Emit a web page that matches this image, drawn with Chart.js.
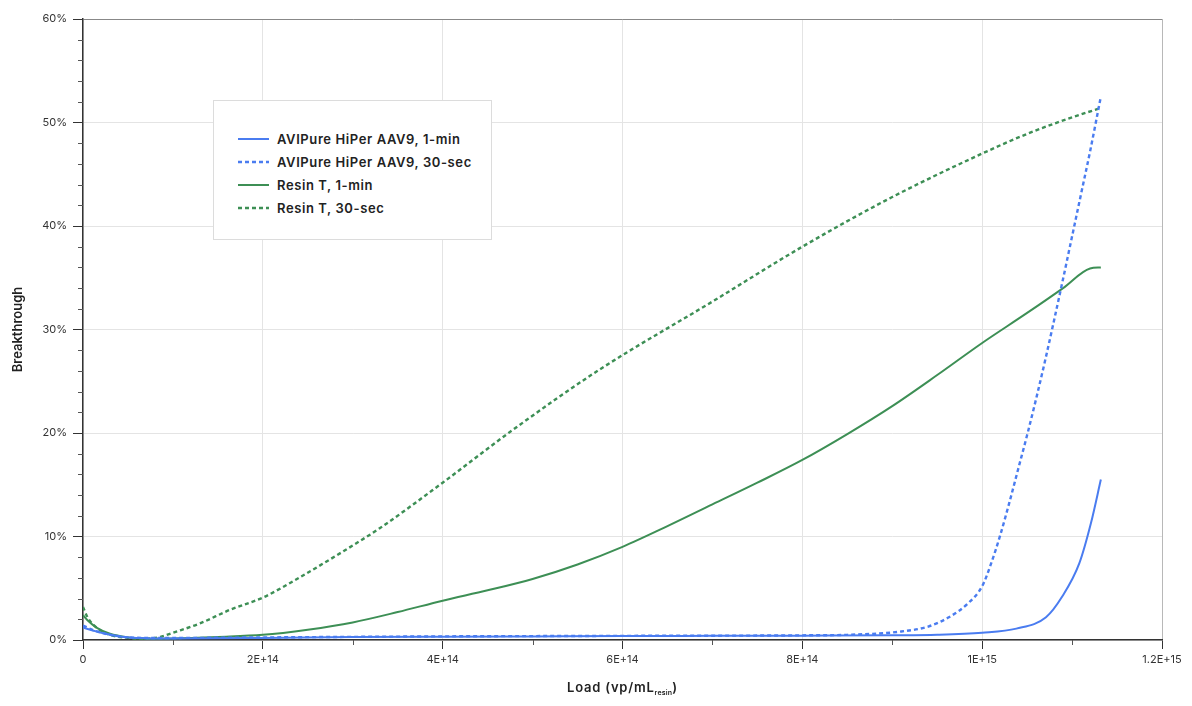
<!DOCTYPE html>
<html>
<head>
<meta charset="utf-8">
<script src="https://cdn.jsdelivr.net/npm/chart.js@4.4.1/dist/chart.umd.min.js"></script>
<style>
  html, body { margin: 0; padding: 0; background: #fff; }
  #wrap { position: relative; width: 1192px; height: 706px; font-family: Inter, "Open Sans", sans-serif; }
  #legend { position: absolute; left: 213px; top: 100px; width: 279px; height: 140px; box-sizing: border-box;
            border: 1px solid #dcdcdc; background: #fff; padding-top: 26px; }
  .item { display: flex; align-items: center; height: 23px; padding-left: 24px; font-size: 13px; font-weight: 600; letter-spacing: 0.6px; color: #222; }
  .item svg { margin-right: 8px; }
  #xtitle { position: absolute; top: 679px; left: 0; width: 1245px; text-align: center; font-size: 13px; font-weight: 600; letter-spacing: 0.8px; color: #222; }
  #xtitle sub { font-size: 7px; letter-spacing: 0.2px; vertical-align: -3px; }
</style>
</head>
<body>
<div id="wrap">
  <canvas id="c" width="1192" height="706"></canvas>
  <div id="legend"></div>
  <div id="xtitle">Load (vp/mL<sub>resin</sub>)</div>
</div>
<script>
// ---- Data (x in vp/mL resin, y in % breakthrough) ----
const seriesNames = ["AVIPure HiPer AAV9, 1-min", "AVIPure HiPer AAV9, 30-sec", "Resin T, 1-min", "Resin T, 30-sec"];

const aviOneMinX = [0, 0.1e14, 0.25e14, 0.45e14, 0.7e14, 1.0e14, 2e14, 3e14, 4e14, 5e14, 6e14, 7e14, 8e14, 9e14, 9.5e14, 10e14, 10.38e14, 10.71e14, 10.89e14, 11.08e14, 11.21e14, 11.32e14];
const aviOneMinY = [1.2, 0.95, 0.6, 0.3, 0.18, 0.15, 0.2, 0.28, 0.32, 0.35, 0.38, 0.4, 0.42, 0.45, 0.5, 0.7, 1.1, 2.2, 4.2, 7.4, 11.3, 15.5];

const aviHalfMinX = [0, 0.1e14, 0.25e14, 0.45e14, 0.7e14, 1.0e14, 2e14, 4e14, 6e14, 8e14, 8.5e14, 9.08e14, 9.4e14, 9.63e14, 9.85e14, 10.0e14, 10.1e14, 10.2e14, 10.3e14, 10.4e14, 10.5e14, 10.6e14, 10.7e14, 10.8e14, 10.9e14, 11.0e14, 11.1e14, 11.2e14, 11.32e14];
const aviHalfMinY = [1.4, 1.0, 0.6, 0.3, 0.2, 0.2, 0.25, 0.35, 0.4, 0.45, 0.5, 0.8, 1.3, 2.2, 3.6, 5.2, 7.4, 10.1, 13.2, 16.5, 19.8, 23.3, 27.0, 30.9, 34.9, 39.0, 43.1, 47.2, 52.5];

const resinOneMinX = [0, 0.05e14, 0.15e14, 0.3e14, 0.5e14, 0.7e14, 1.0e14, 1.5e14, 2e14, 2.5e14, 3e14, 3.5e14, 4e14, 4.5e14, 5e14, 5.5e14, 6e14, 6.5e14, 7e14, 7.5e14, 8e14, 8.5e14, 9e14, 9.5e14, 10e14, 10.5e14, 10.9e14, 11.2e14, 11.32e14];
const resinOneMinY = [2.4, 1.9, 1.2, 0.6, 0.25, 0.12, 0.15, 0.3, 0.5, 1.0, 1.7, 2.7, 3.8, 4.8, 5.9, 7.3, 9.0, 11.0, 13.1, 15.2, 17.4, 19.9, 22.6, 25.6, 28.7, 31.6, 34.0, 35.9, 36.0];

const resinHalfMinX = [0, 0.05e14, 0.15e14, 0.3e14, 0.5e14, 0.7e14, 0.86e14, 1.0e14, 1.3e14, 1.63e14, 2e14, 2.4e14, 2.9e14, 3.3e14, 4e14, 4.78e14, 5.74e14, 7e14, 8e14, 9e14, 10e14, 10.5e14, 11e14, 11.32e14];
const resinHalfMinY = [3.2, 2.2, 1.2, 0.5, 0.2, 0.12, 0.3, 0.7, 1.6, 2.9, 4.1, 6.0, 8.6, 10.8, 15.2, 20.3, 26.1, 32.7, 38.0, 42.8, 47.0, 48.9, 50.5, 51.4];

const xTickValues = [0, 2e14, 4e14, 6e14, 8e14, 10e14, 12e14];
const xTickLabels = ["0", "2E+14", "4E+14", "6E+14", "8E+14", "1E+15", "1.2E+15"];
const xMinorTicks = [1e14, 3e14, 5e14, 7e14, 9e14, 11e14];
const yTickValues = [0, 10, 20, 30, 40, 50, 60];
const yTickLabels = ["0%", "10%", "20%", "30%", "40%", "50%", "60%"];
const yMinorTicks = [2, 4, 6, 8, 12, 14, 16, 18, 22, 24, 26, 28, 32, 34, 36, 38, 42, 44, 46, 48, 52, 54, 56, 58];

const BLUE = "#4a7cf0";
const GREEN = "#3d8f55";
const colors = [BLUE, BLUE, GREEN, GREEN];
const dashes = [[], [4, 3], [], [4, 3]];
const widths = [2, 2.4, 2, 2.4];

function pts(xs, ys) { return xs.map((x, i) => ({ x: x, y: ys[i] })); }
const allData = [pts(aviOneMinX, aviOneMinY), pts(aviHalfMinX, aviHalfMinY), pts(resinOneMinX, resinOneMinY), pts(resinHalfMinX, resinHalfMinY)];

const minorTicks = {
  id: "minorTicks",
  afterDraw(chart) {
    const { ctx, chartArea, scales } = chart;
    ctx.save();
    ctx.strokeStyle = "#555";
    ctx.lineWidth = 1;
    ctx.beginPath();
    xMinorTicks.forEach(v => {
      const px = Math.round(scales.x.getPixelForValue(v)) + 0.5;
      ctx.moveTo(px, chartArea.bottom); ctx.lineTo(px, chartArea.bottom + 5);
    });
    yMinorTicks.forEach(v => {
      const py = Math.round(scales.y.getPixelForValue(v)) + 0.5;
      ctx.moveTo(chartArea.left - 5, py); ctx.lineTo(chartArea.left, py);
    });
    ctx.stroke();
    ctx.restore();
  }
};

new Chart(document.getElementById("c"), {
  type: "line",
  data: {
    datasets: seriesNames.map((n, i) => ({
      label: n,
      data: allData[i],
      borderColor: colors[i],
      backgroundColor: colors[i],
      borderWidth: widths[i],
      borderDash: dashes[i],
      pointRadius: 0,
      fill: false,
      cubicInterpolationMode: "monotone"
    }))
  },
  options: {
    responsive: false,
    animation: false,
    layout: { padding: { top: 19, right: 30, left: 0, bottom: 0 } },
    plugins: { legend: { display: false }, tooltip: { enabled: false } },
    scales: {
      x: {
        type: "linear", min: 0, max: 12e14,
        afterBuildTicks: s => { s.ticks = xTickValues.map(v => ({ value: v })); },
        afterFit: s => { s.height = 66; },
        ticks: {
          callback: (v) => xTickLabels[xTickValues.indexOf(v)],
          color: "#333", font: { family: "Inter", size: 11 }, padding: 4, maxRotation: 0
        },
        grid: {
          color: ctx => ctx.index === xTickValues.length - 1 ? "#b8b8b8" : "#e4e4e4",
          tickColor: "#333", tickLength: 9, lineWidth: 1
        },
        border: { color: "#333", width: 1.5 }
      },
      y: {
        type: "linear", min: 0, max: 60,
        afterBuildTicks: s => { s.ticks = yTickValues.map(v => ({ value: v })); },
        afterFit: s => { s.width = 83; },
        ticks: {
          callback: (v) => yTickLabels[yTickValues.indexOf(v)],
          color: "#333", font: { family: "Inter", size: 11 }, padding: 6
        },
        grid: {
          color: ctx => ctx.index === yTickValues.length - 1 ? "#888" : "#e4e4e4",
          tickColor: "#333", tickLength: 10, lineWidth: 1
        },
        border: { color: "#333", width: 1.5 },
        title: { display: true, text: "Breakthrough", color: "#222", font: { family: "Inter", size: 13, weight: "600" }, padding: { top: 10, bottom: 0 } }
      }
    }
  },
  plugins: [minorTicks]
});

// HTML legend
const leg = document.getElementById("legend");
seriesNames.forEach((n, i) => {
  const d = document.createElement("div");
  d.className = "item";
  d.innerHTML = '<svg width="31" height="4"><line x1="0" y1="2" x2="31" y2="2" stroke="' + colors[i] + '" stroke-width="' + widths[i] + '"' +
    (dashes[i].length ? ' stroke-dasharray="4 3"' : '') + '/></svg><span>' + n + '</span>';
  leg.appendChild(d);
});
</script>
</body>
</html>
